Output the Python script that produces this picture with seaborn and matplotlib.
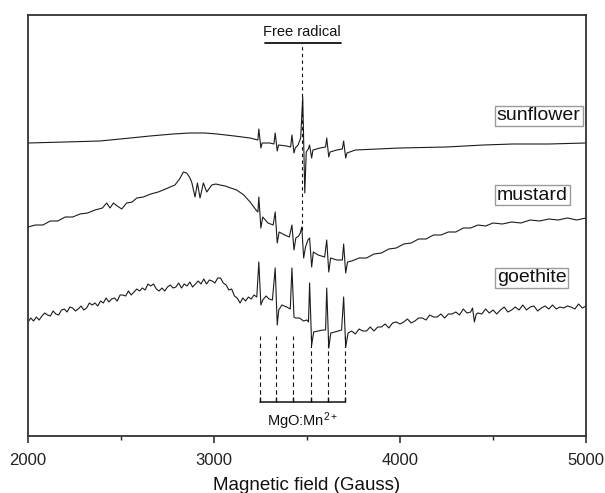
import matplotlib
matplotlib.use("Agg")
import matplotlib.pyplot as plt
import numpy as np
import pandas as pd
import seaborn as sns

# ---------------- data (intensity in arbitrary units) ----------------
sunflower_field = [2000, 2200, 2387, 2550, 2656, 2780, 2871, 2950, 3016, 3110, 3193, 3236,
                   3241, 3252, 3259, 3300, 3322,
                   3329, 3340, 3347, 3390, 3412,
                   3419, 3430, 3437, 3452, 3466,
                   3477, 3488, 3496, 3507,
                   3514, 3525, 3532, 3570, 3600,
                   3606, 3617, 3624, 3660, 3690,
                   3697, 3708, 3715, 3760, 3880, 4000, 4248, 4450, 4607, 4800, 5000]
sunflower_int = [293, 294, 295, 298, 300, 302, 303, 303, 302, 300, 298, 296,
                 307, 288, 293, 293, 292,
                 303, 285, 291, 290, 289,
                 301, 283, 288, 291, 298,
                 339, 243, 284, 287,
                 291, 278, 286, 288, 289,
                 298, 279, 284, 286, 287,
                 295, 278, 283, 286, 287, 288, 289, 291, 292, 292, 293]

mustard_field = [2000, 2040, 2080, 2120, 2160, 2200, 2240, 2280, 2320, 2360, 2400, 2423, 2441, 2459,
                 2480, 2504, 2530, 2560, 2585, 2620, 2660, 2700, 2740, 2764, 2790, 2815, 2835, 2853,
                 2868, 2880, 2898, 2911, 2925, 2943, 2961, 2988, 3010, 3032, 3060, 3090, 3122, 3160,
                 3194, 3226, 3236,
                 3241, 3252, 3262, 3290, 3318,
                 3329, 3340, 3350, 3380, 3405,
                 3419, 3430, 3440, 3455, 3464,
                 3472, 3482, 3492, 3505,
                 3514, 3525, 3534, 3560, 3595,
                 3606, 3617, 3627, 3660, 3690,
                 3697, 3708, 3718, 3740, 3780, 3820, 3860, 3900, 3940, 3980, 4020, 4060, 4100,
                 4140, 4180, 4220, 4260, 4300, 4340, 4380, 4420, 4460, 4500, 4550, 4600, 4650,
                 4700, 4750, 4800, 4850, 4900, 4950, 5000]
mustard_int = [209, 211, 211, 215, 215, 219, 219, 222, 223, 226, 228, 233, 228, 233,
               230, 227, 233, 234, 238, 239, 242, 244, 247, 249, 251, 257, 264, 263,
               259, 254, 239, 253, 238, 253, 244, 251, 252, 251, 250, 248, 246, 241,
               234, 226, 224,
               239, 208, 219, 213, 211,
               224, 193, 204, 201, 199,
               211, 186, 198, 200, 203,
               209, 178, 189, 196,
               198, 169, 184, 181, 179,
               196, 164, 178, 176, 176,
               192, 163, 174, 175, 178, 178, 182, 183, 187, 188, 192, 193, 197,
               197, 201, 201, 204, 204, 208, 208, 211, 210, 213, 212, 214, 213,
               216, 215, 217, 216, 218, 216, 218]

goethite_left_field = [2000, 2015, 2030, 2045, 2060, 2075, 2090, 2105, 2120, 2135, 2150, 2165,
                       2180, 2195, 2210, 2225, 2240, 2255, 2270, 2285, 2300, 2315, 2330, 2345,
                       2360, 2375, 2390, 2405, 2420, 2435, 2450, 2465, 2480, 2495, 2510, 2525,
                       2540, 2555, 2570, 2585, 2600, 2615, 2630, 2645, 2660, 2675, 2690, 2705,
                       2720, 2735, 2750, 2765, 2780, 2795, 2810, 2825, 2840, 2855, 2870, 2885,
                       2900, 2915, 2930, 2945, 2960, 2975, 2990, 3005, 3020, 3035, 3050, 3065,
                       3080, 3095, 3110, 3125, 3140, 3155, 3170, 3185, 3200, 3215, 3230]
goethite_left_int = [114, 118, 115, 119, 116, 120, 123, 121, 120, 125, 122, 121,
                     126, 127, 124, 129, 128, 125, 127, 130, 126, 128, 133, 131,
                     133, 130, 135, 133, 138, 134, 137, 138, 135, 141, 141, 140,
                     145, 141, 144, 147, 145, 148, 146, 152, 150, 152, 147, 145,
                     148, 145, 149, 151, 148, 149, 153, 148, 152, 150, 154, 149,
                     152, 155, 152, 157, 152, 156, 155, 153, 158, 158, 153, 151,
                     146, 147, 140, 138, 133, 138, 135, 139, 137, 141, 139]
goethite_mid_field = [3241, 3252, 3262, 3280, 3296, 3314,
                      3329, 3340, 3348, 3365, 3391, 3410,
                      3419, 3430, 3438, 3460, 3481, 3500, 3508,
                      3514, 3525, 3536, 3560, 3585, 3600,
                      3606, 3617, 3628, 3650, 3686,
                      3697, 3708, 3721]
goethite_mid_int = [174, 131, 136, 140, 137, 136,
                    168, 111, 126, 131, 129, 127,
                    168, 119, 118, 118, 115, 116, 114,
                    153, 91, 104, 105, 106, 106,
                    148, 88, 103, 104, 106,
                    139, 89, 103]
goethite_right_field = [3740, 3760, 3780, 3800, 3820, 3840, 3860, 3880, 3900, 3920, 3940, 3960,
                        3980, 4000, 4020, 4040, 4060, 4080, 4100, 4120, 4140, 4160, 4180, 4200,
                        4220, 4240, 4260, 4280, 4300, 4320, 4340, 4360, 4380, 4390, 4400, 4410,
                        4420, 4440, 4460, 4480, 4500, 4520, 4540, 4560, 4580, 4600, 4620, 4640,
                        4660, 4680, 4700, 4720, 4740, 4760, 4780, 4800, 4820, 4840, 4860, 4880,
                        4900, 4920, 4940, 4960, 4980, 5000]
goethite_right_int = [105, 102, 107, 105, 105, 109, 105, 109, 109, 112, 108, 113,
                      114, 112, 114, 117, 113, 115, 118, 118, 116, 121, 119, 119,
                      122, 118, 122, 122, 124, 121, 127, 123, 124, 128, 114, 122,
                      123, 122, 127, 123, 126, 122, 126, 129, 124, 126, 129, 126,
                      131, 126, 129, 130, 125, 128, 130, 127, 131, 127, 129, 128,
                      130, 129, 127, 132, 128, 130]

sample_names = ["sunflower", "mustard", "goethite"]
label_field = 4521
label_int = [320, 241, 158]

free_radical_field = 3474
free_radical_bar = [3274, 3683]
free_radical_bar_int = 393
free_radical_line_end = 206
mn_lines = [3247, 3335, 3425, 3520, 3612, 3703]
mn_bracket_int = 34
mn_line_top = 100

goethite_field = goethite_left_field + goethite_mid_field + goethite_right_field
goethite_int = goethite_left_int + goethite_mid_int + goethite_right_int

# ---------------- style ----------------
sns.set_style("ticks")
plt.rcParams["font.family"] = ["Liberation Sans", "DejaVu Sans"]
plt.rcParams["mathtext.fontset"] = "custom"
plt.rcParams["mathtext.rm"] = "Liberation Sans"
plt.rcParams["mathtext.it"] = "Liberation Sans:italic"
plt.rcParams["mathtext.bf"] = "Liberation Sans:bold"
plt.rcParams["mathtext.default"] = "regular"

fig = plt.figure(figsize=(6.05, 4.93), dpi=100)
ax = fig.add_axes([28 / 605, 57 / 493, 558 / 605, 421 / 493])

line_color = "#1c1c1c"
for f, v in [(sunflower_field, sunflower_int), (mustard_field, mustard_int), (goethite_field, goethite_int)]:
    df = pd.DataFrame({"field": f, "intensity": v})
    sns.lineplot(data=df, x="field", y="intensity", ax=ax, color=line_color,
                 linewidth=0.8, estimator=None, sort=False)

ax.set_xlim(2000, 5000)
ax.set_ylim(0, 421)
ax.set_xticks([2000, 3000, 4000, 5000])
ax.set_xticks([2500, 3500, 4500], minor=True)
ax.set_yticks([])
ax.set_ylabel("")
ax.set_xlabel("Magnetic field (Gauss)", fontsize=13.5, labelpad=7, color="#111111")
ax.tick_params(axis="x", which="major", direction="out", length=5, width=1.1,
               labelsize=12, pad=7, colors="#222222")
ax.tick_params(axis="x", which="minor", direction="out", length=3, width=1.0, colors="#222222")
for s in ax.spines.values():
    s.set_visible(True)
    s.set_linewidth(1.3)
    s.set_color("#333333")

# free radical annotation
ax.plot(free_radical_bar, [free_radical_bar_int] * 2, color="#111111", lw=1.3)
ax.text(free_radical_field, free_radical_bar_int + 4, "Free radical", ha="center", va="bottom",
        fontsize=10.5, color="#111111")
ax.vlines(free_radical_field, free_radical_line_end, free_radical_bar_int, colors="#111111",
          linewidth=0.8, linestyles=(0, (3, 3)))

# MgO:Mn2+ bracket
ax.vlines(mn_lines, mn_bracket_int, mn_line_top, colors="#111111", linewidth=0.8,
          linestyles=(0, (4, 3)))
ax.plot([mn_lines[0], mn_lines[-1]], [mn_bracket_int] * 2, color="#111111", lw=1.1)
ax.vlines(mn_lines, mn_bracket_int, mn_bracket_int + 5, colors="#111111", linewidth=1.0)
ax.text(np.mean([mn_lines[0], mn_lines[-1]]), mn_bracket_int - 8, "MgO:Mn$^{2+}$",
        ha="center", va="top", fontsize=10.5, color="#111111")

# sample labels
for name, yv in zip(sample_names, label_int):
    ax.text(label_field, yv, name, ha="left", va="center", fontsize=14, color="#111111",
            bbox=dict(boxstyle="square,pad=0.1", fc="white", ec="#9a9a9a", lw=1.0))

fig.savefig("out.png", dpi=100)
